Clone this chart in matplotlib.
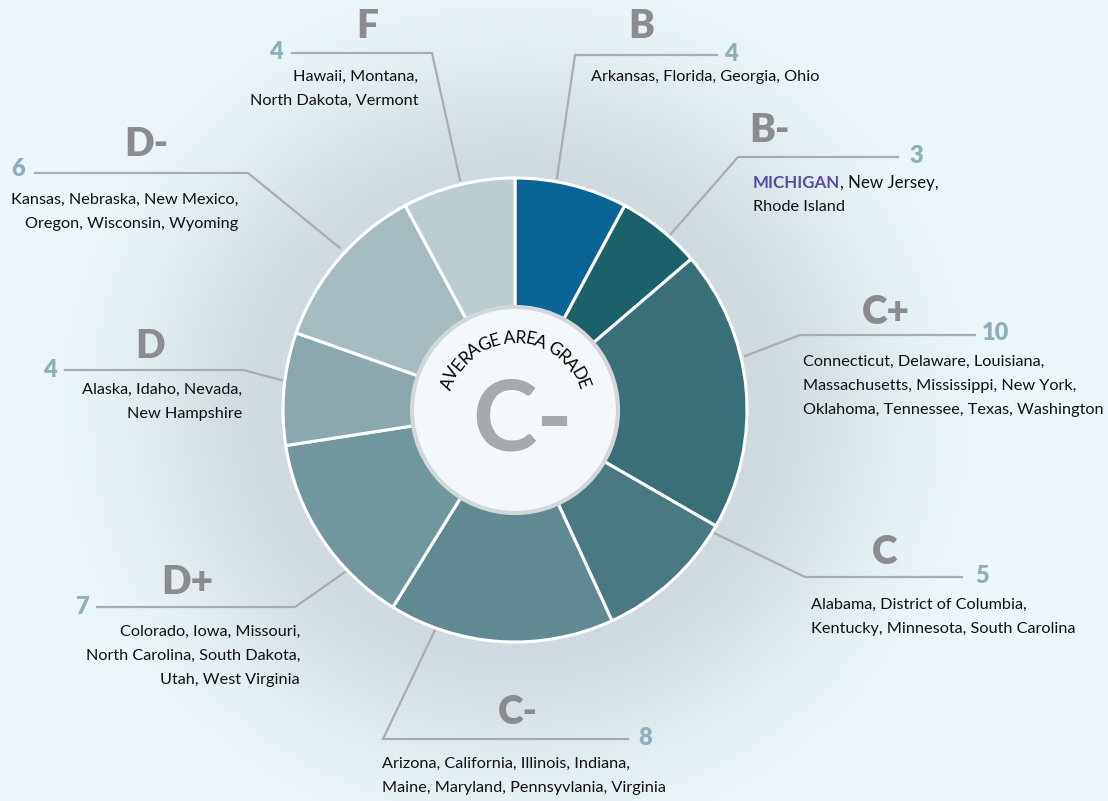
import numpy as np
import matplotlib
matplotlib.use("Agg")
import matplotlib.pyplot as plt
from matplotlib.patches import Circle
from matplotlib.textpath import TextPath
from matplotlib.font_manager import FontProperties

# grades and number of states in each
grades = ['B', 'B-', 'C+', 'C', 'C-', 'D+', 'D', 'D-', 'F']
counts = [4, 3, 10, 5, 8, 7, 4, 6, 4]
states = [
    "Arkansas, Florida, Georgia, Ohio",
    "MICHIGAN, New Jersey,\nRhode Island",
    "Connecticut, Delaware, Louisiana,\nMassachusetts, Mississippi, New York,\nOklahoma, Tennessee, Texas, Washington",
    "Alabama, District of Columbia,\nKentucky, Minnesota, South Carolina",
    "Arizona, California, Illinois, Indiana,\nMaine, Maryland, Pennsyvlania, Virginia",
    "Colorado, Iowa, Missouri,\nNorth Carolina, South Dakota,\nUtah, West Virginia",
    "Alaska, Idaho, Nevada,\nNew Hampshire",
    "Kansas, Nebraska, New Mexico,\nOregon, Wisconsin, Wyoming",
    "Hawaii, Montana,\nNorth Dakota, Vermont",
]
colors = ['#0b6496', '#1b6169', '#396f77', '#4a7a81', '#5f8a91',
          '#70979d', '#8aa8ad', '#a5bbc0', '#bccdd2']
avg_grade = 'C-'

W, H = 1108, 801
def Y(y):
    return H - y

# label layout in pixel coords: leader start, elbow, end; number; letter; text x, y, align
layout = {
    'B':  ((557, 178), (575, 55), (717, 55), (731, 54), (641, 27), (591, 77, 'left')),
    'B-': ((670, 235), (738, 157), (898, 157), (916, 156), (770, 130), (753, 183, 'left')),
    'C+': ((745, 356), (800, 335), (975, 335), (995, 333), (886, 312), (803, 362, 'left')),
    'C':  ((712, 532), (805, 577), (962, 577), (982, 576), (885, 552), (811, 605, 'left')),
    'C-': ((436, 628), (383, 739), (628, 739), (645, 738), (518, 712), (382, 764, 'left')),
    'D+': ((345, 572), (295, 607), (97, 607), (82, 607), (187, 583), (300, 632, 'right')),
    'D':  ((285, 381), (243, 370), (65, 370), (50, 370), (150, 347), (242, 390, 'right')),
    'D-': ((340, 248), (248, 173), (35, 173), (18, 169), (146, 145), (238, 200, 'right')),
    'F':  ((460, 180), (432, 53), (292, 53), (276, 52), (367, 27), (418, 77, 'right')),
}

cx, cy, R, r_in = 515, 410, 232, 103
font = 'Lato'
body_fs = 11.7

fig = plt.figure(figsize=(W / 100, H / 100), dpi=100)
ax = fig.add_axes([0, 0, 1, 1])

# soft background with a grey halo around the ring
yy, xx = np.mgrid[0:H, 0:W]
d = np.hypot(xx - cx, (yy - cy) * 1.05)
w = np.clip(np.exp(-((np.maximum(d - 225, 0)) / 150.0) ** 2), 0, 1)
base = np.array([237, 247, 252]) / 255.0
halo = np.array([206, 218, 223]) / 255.0
bg = base[None, None, :] * (1 - w[..., None]) + halo[None, None, :] * w[..., None]
ax.imshow(bg, extent=(0, W, 0, H), origin='upper', zorder=0)

ax.pie(counts, colors=colors, startangle=90, counterclock=False, radius=R,
       center=(cx, Y(cy)), wedgeprops=dict(edgecolor='white', linewidth=2.2))
for p in ax.patches:
    p.set_zorder(2)

ax.add_patch(Circle((cx, Y(cy)), r_in, facecolor='#f3f8fb', edgecolor='#d2d7d9',
                    linewidth=3, zorder=3))

# curved title inside the ring
arc_txt = "AVERAGE AREA GRADE"
fs = 12.5
fp = FontProperties(family=font, size=fs)
ref = TextPath((0, 0), '||', prop=fp).get_extents().width
widths = np.array([TextPath((0, 0), '|' + ch + '|', prop=fp).get_extents().width - ref
                   for ch in arc_txt]) * 100 / 72.0
r_base = 67
span = np.radians(146)
scale = span / (widths.sum() / r_base)
edges = np.concatenate([[0], np.cumsum(widths)])
mids = (edges[:-1] + edges[1:]) / 2
thetas = np.pi / 2 + span / 2 - mids / r_base * scale
for ch, th in zip(arc_txt, thetas):
    ax.text(cx + r_base * np.cos(th), Y(cy) + r_base * np.sin(th), ch,
            rotation=np.degrees(th) - 90, rotation_mode='anchor',
            ha='center', va='baseline', fontsize=fs, family=font,
            color='#000000', zorder=5)

ax.text(523, Y(422), avg_grade, fontsize=70, family=font, fontweight='bold',
        color='#a7a9ac', ha='center', va='center', zorder=5)

line_col = '#a9adb0'
for g, n, s in zip(grades, counts, states):
    st, el, en, nm, lt, (tx, ty, al) = layout[g]
    ax.plot([st[0], el[0], en[0]], [Y(st[1]), Y(el[1]), Y(en[1])],
            color=line_col, lw=1.6, zorder=1, solid_joinstyle='miter')
    ax.text(nm[0], Y(nm[1]), str(n), fontsize=17, fontweight='heavy', family=font,
            color='#8fb0b8', ha='center', va='center', zorder=5)
    ax.text(lt[0], Y(lt[1]), g, fontsize=28, fontweight='heavy', family=font,
            color='#8a8c8f', ha='center', va='center', zorder=5)
    for i, line in enumerate(s.split('\n')):
        yl = Y(ty + i * 24)
        if line.startswith('MICHIGAN'):
            t = ax.text(tx, yl, 'MICHIGAN', fontsize=body_fs + 0.5, fontweight='bold',
                        family=font, color='#5a4aa0', ha='left', va='center', zorder=5)
            ax.annotate(line[len('MICHIGAN'):], xy=(1, 0), xycoords=t,
                        fontsize=body_fs + 0.5, family=font, color='#111111',
                        ha='left', va='bottom', zorder=5)
        else:
            ax.text(tx, yl, line, fontsize=body_fs, family=font, color='#111111',
                    ha=al, va='center', zorder=5)

ax.set_xlim(0, W)
ax.set_ylim(0, H)
ax.set_aspect('equal')
ax.axis('off')
fig.savefig('out.png', dpi=100)
